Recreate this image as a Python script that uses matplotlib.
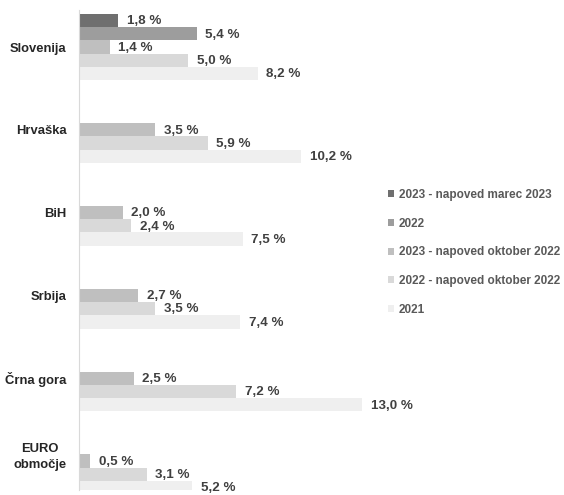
import matplotlib
matplotlib.use("Agg")
import matplotlib.pyplot as plt
import numpy as np
from matplotlib.patches import Patch
from matplotlib.transforms import ScaledTranslation

categories = ['Slovenija', 'Hrvaška', 'BiH', 'Srbija', 'Črna gora', 'EURO\nobmočje']
series_names = ['2023 - napoved marec 2023', '2022', '2023 - napoved oktober 2022',
                '2022 - napoved oktober 2022', '2021']
s2023_mar = [1.8, None, None, None, None, None]
s2022 = [5.4, None, None, None, None, None]
s2023_oct = [1.4, 3.5, 2.0, 2.7, 2.5, 0.5]
s2022_oct = [5.0, 5.9, 2.4, 3.5, 7.2, 3.1]
s2021 = [8.2, 10.2, 7.5, 7.4, 13.0, 5.2]
series = [s2023_mar, s2022, s2023_oct, s2022_oct, s2021]
colors = ['#6f6f6f', '#9d9d9d', '#bfbfbf', '#d9d9d9', '#efefef']

plt.rcParams['font.family'] = ['Liberation Sans', 'DejaVu Sans']

W, H = 564, 495
fig = plt.figure(figsize=(W / 100, H / 100), dpi=100)
ax = fig.add_axes([79 / W, 5 / H, 300 / W, 480 / H])

y = np.arange(len(categories))
bh = 0.16
for k, (vals, c) in enumerate(zip(series, colors)):
    off = (k - 2) * bh
    for i, v in enumerate(vals):
        if v is None:
            continue
        ax.barh(y[i] + off, v, height=bh, color=c, edgecolor='none')
        ax.text(v + 0.40, y[i] + off + 0.01, f"{v:.1f} %".replace('.', ','),
                va='center', ha='left', fontsize=9.6, fontweight='bold', color='#404040')

ax.set_xlim(0, 300 / 21.8)
ax.set_ylim(5.35, -0.447)
ax.set_yticks(y)
ax.set_yticklabels(categories, fontsize=9.4, fontweight='bold', color='#262626',
                   multialignment='center', linespacing=1.45)
ax.tick_params(axis='y', length=0, pad=9)
ax.set_xticks([])
for s in ['top', 'right', 'bottom']:
    ax.spines[s].set_visible(False)
ax.spines['left'].set_color('#d9d9d9')
ax.spines['left'].set_linewidth(0.8)

lab = ax.get_yticklabels()[-1]
lab.set_transform(lab.get_transform() + ScaledTranslation(0, 8 / 100, fig.dpi_scale_trans))

handles = [Patch(facecolor=c, edgecolor='none') for c in colors]
leg = fig.legend(handles, series_names, loc='upper left',
                 bbox_to_anchor=(388 / W, 1 - 189 / H), frameon=False,
                 prop={'size': 8.5, 'weight': 'bold'}, labelcolor='#595959',
                 handlelength=0.55, handleheight=0.55, handletextpad=0.35,
                 labelspacing=1.41, borderaxespad=0, borderpad=0)

fig.savefig('out.png', dpi=100, facecolor='white')
